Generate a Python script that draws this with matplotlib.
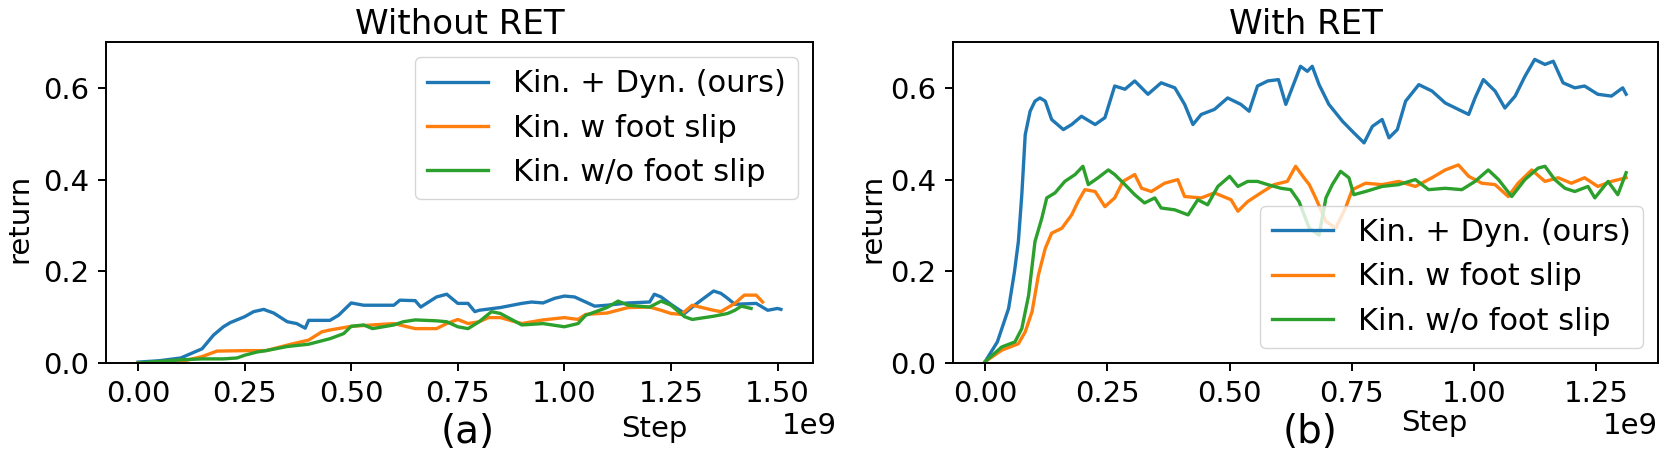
import numpy as np
import matplotlib
matplotlib.use('Agg')
import matplotlib.pyplot as plt

# step values in units of 1e9, return values
# ---- Without RET ----
noret_dyn_x = [0.00, 0.05, 0.10, 0.15, 0.177, 0.20, 0.216, 0.25, 0.271, 0.295, 0.30, 0.318,
               0.35, 0.372, 0.392, 0.40, 0.45, 0.47, 0.50, 0.529, 0.55, 0.60, 0.614, 0.65,
               0.663, 0.70, 0.724, 0.75, 0.774, 0.79, 0.80, 0.85, 0.90, 0.923, 0.95, 0.977,
               1.00, 1.024, 1.05, 1.071, 1.10, 1.15, 1.20, 1.211, 1.227, 1.25, 1.282, 1.30,
               1.321, 1.35, 1.367, 1.383, 1.40, 1.45, 1.477, 1.50, 1.508]
noret_dyn_y = [0.002, 0.005, 0.011, 0.031, 0.061, 0.079, 0.088, 0.101, 0.112, 0.117, 0.115, 0.109,
               0.090, 0.086, 0.076, 0.093, 0.093, 0.104, 0.131, 0.126, 0.126, 0.126, 0.137, 0.136,
               0.122, 0.144, 0.150, 0.130, 0.130, 0.112, 0.115, 0.121, 0.130, 0.133, 0.131, 0.141,
               0.146, 0.144, 0.133, 0.124, 0.126, 0.131, 0.133, 0.150, 0.144, 0.128, 0.108, 0.122,
               0.137, 0.157, 0.152, 0.141, 0.128, 0.130, 0.115, 0.119, 0.117]

noret_slip_x = [0.00, 0.10, 0.15, 0.185, 0.25, 0.30, 0.35, 0.40, 0.431, 0.45, 0.50, 0.55, 0.60,
                0.65, 0.70, 0.724, 0.75, 0.774, 0.80, 0.822, 0.85, 0.90, 0.95, 1.00, 1.032, 1.05,
                1.10, 1.15, 1.20, 1.227, 1.25, 1.274, 1.30, 1.35, 1.367, 1.40, 1.422, 1.45, 1.465]
noret_slip_y = [0.000, 0.003, 0.014, 0.026, 0.027, 0.027, 0.039, 0.050, 0.068, 0.072, 0.080, 0.083, 0.086,
                0.075, 0.075, 0.086, 0.095, 0.086, 0.090, 0.099, 0.099, 0.086, 0.094, 0.099, 0.095, 0.106,
                0.109, 0.121, 0.122, 0.115, 0.108, 0.106, 0.126, 0.115, 0.112, 0.130, 0.148, 0.148, 0.133]

noret_noslip_x = [0.00, 0.10, 0.15, 0.20, 0.232, 0.25, 0.279, 0.30, 0.35, 0.40, 0.45, 0.482, 0.50,
                  0.529, 0.55, 0.60, 0.622, 0.65, 0.70, 0.724, 0.75, 0.774, 0.80, 0.829, 0.85, 0.90,
                  0.95, 1.00, 1.032, 1.05, 1.10, 1.126, 1.15, 1.20, 1.227, 1.25, 1.282, 1.30, 1.35,
                  1.383, 1.40, 1.415, 1.438]
noret_noslip_y = [0.000, 0.007, 0.009, 0.009, 0.011, 0.017, 0.024, 0.027, 0.036, 0.041, 0.053, 0.064, 0.080,
                  0.083, 0.075, 0.083, 0.090, 0.094, 0.092, 0.090, 0.079, 0.075, 0.090, 0.112, 0.108, 0.083,
                  0.086, 0.079, 0.086, 0.104, 0.121, 0.135, 0.126, 0.122, 0.135, 0.126, 0.101, 0.095, 0.102,
                  0.108, 0.115, 0.124, 0.119]

# ---- With RET ----
ret_dyn_x = [0.000, 0.025, 0.048, 0.060, 0.068, 0.075, 0.082, 0.092, 0.102, 0.112, 0.123, 0.136,
             0.160, 0.177, 0.197, 0.225, 0.245, 0.265, 0.286, 0.306, 0.333, 0.360, 0.388, 0.408,
             0.425, 0.442, 0.469, 0.496, 0.523, 0.540, 0.557, 0.578, 0.600, 0.615, 0.632, 0.645,
             0.659, 0.669, 0.683, 0.703, 0.731, 0.754, 0.775, 0.792, 0.812, 0.826, 0.843, 0.860,
             0.887, 0.914, 0.941, 0.962, 0.989, 1.002, 1.019, 1.043, 1.063, 1.084, 1.104, 1.124,
             1.145, 1.162, 1.182, 1.206, 1.226, 1.253, 1.281, 1.304, 1.311]
ret_dyn_y = [0.003, 0.046, 0.119, 0.199, 0.265, 0.367, 0.498, 0.549, 0.571, 0.578, 0.571, 0.531,
             0.509, 0.520, 0.538, 0.520, 0.535, 0.604, 0.597, 0.615, 0.586, 0.611, 0.600, 0.564,
             0.520, 0.542, 0.553, 0.578, 0.564, 0.549, 0.604, 0.615, 0.618, 0.564, 0.611, 0.647,
             0.636, 0.647, 0.607, 0.564, 0.527, 0.502, 0.480, 0.516, 0.531, 0.491, 0.509, 0.571,
             0.607, 0.593, 0.567, 0.556, 0.542, 0.578, 0.618, 0.593, 0.556, 0.582, 0.625, 0.662,
             0.651, 0.658, 0.611, 0.600, 0.604, 0.586, 0.582, 0.600, 0.586]

ret_slip_x = [0.000, 0.034, 0.068, 0.082, 0.096, 0.109, 0.123, 0.136, 0.157, 0.177, 0.190, 0.204,
              0.225, 0.245, 0.265, 0.282, 0.306, 0.320, 0.340, 0.367, 0.394, 0.408, 0.442, 0.469,
              0.503, 0.517, 0.537, 0.564, 0.591, 0.618, 0.635, 0.652, 0.663, 0.676, 0.697, 0.717,
              0.737, 0.751, 0.778, 0.812, 0.846, 0.880, 0.914, 0.941, 0.968, 0.989, 1.016, 1.043,
              1.070, 1.090, 1.118, 1.145, 1.172, 1.199, 1.226, 1.253, 1.281, 1.311]
ret_slip_y = [0.003, 0.028, 0.042, 0.068, 0.112, 0.192, 0.250, 0.283, 0.294, 0.323, 0.352, 0.378,
              0.374, 0.341, 0.360, 0.396, 0.411, 0.381, 0.374, 0.392, 0.400, 0.363, 0.360, 0.371,
              0.356, 0.331, 0.352, 0.371, 0.389, 0.396, 0.429, 0.404, 0.389, 0.360, 0.309, 0.294,
              0.338, 0.378, 0.392, 0.389, 0.396, 0.385, 0.404, 0.421, 0.432, 0.407, 0.392, 0.389,
              0.363, 0.392, 0.421, 0.396, 0.404, 0.392, 0.404, 0.385, 0.396, 0.404]

ret_noslip_x = [0.000, 0.034, 0.061, 0.075, 0.089, 0.102, 0.116, 0.126, 0.143, 0.163, 0.184, 0.200,
                0.211, 0.231, 0.252, 0.265, 0.286, 0.306, 0.326, 0.347, 0.360, 0.388, 0.415, 0.435,
                0.455, 0.476, 0.500, 0.517, 0.537, 0.557, 0.578, 0.605, 0.625, 0.642, 0.663, 0.683,
                0.697, 0.710, 0.727, 0.744, 0.754, 0.778, 0.812, 0.846, 0.880, 0.907, 0.941, 0.975,
                1.002, 1.029, 1.050, 1.077, 1.104, 1.131, 1.145, 1.165, 1.186, 1.206, 1.233, 1.247,
                1.274, 1.294, 1.311]
ret_noslip_y = [0.003, 0.035, 0.046, 0.075, 0.148, 0.265, 0.316, 0.360, 0.371, 0.396, 0.411, 0.429,
                0.389, 0.404, 0.421, 0.411, 0.389, 0.367, 0.349, 0.360, 0.338, 0.334, 0.323, 0.356,
                0.345, 0.385, 0.407, 0.385, 0.396, 0.396, 0.389, 0.381, 0.378, 0.352, 0.294, 0.279,
                0.360, 0.389, 0.418, 0.404, 0.367, 0.374, 0.385, 0.389, 0.400, 0.378, 0.381, 0.378,
                0.396, 0.421, 0.400, 0.363, 0.400, 0.425, 0.429, 0.400, 0.381, 0.374, 0.385, 0.360,
                0.396, 0.367, 0.415]

labels = ['Kin. + Dyn. (ours)', 'Kin. w foot slip', 'Kin. w/o foot slip']

FS = 21


def drawPanel(ax, series, title, xticks, legendLoc):
    for (x, y), label in zip(series, labels):
        ax.plot(np.array(x) * 1e9, y, linewidth=2.4, label=label)
    ax.set_ylim(0, 0.7)
    ax.set_yticks([0.0, 0.2, 0.4, 0.6])
    ax.set_xticks(np.array(xticks) * 1e9)
    ax.set_title(title, fontsize=24.5)
    ax.set_ylabel('return', fontsize=FS)
    ax.tick_params(labelsize=FS, length=6, width=1.4, pad=6)
    for sp in ax.spines.values():
        sp.set_linewidth(1.4)
    ax.xaxis.get_offset_text().set_fontsize(FS)
    ax.legend(loc=legendLoc, fontsize=22)


def main():
    fig = plt.figure(figsize=(16.61, 4.5), dpi=100)
    ax1 = fig.add_axes([0.0638, 0.1933, 0.4257, 0.7134])
    ax2 = fig.add_axes([0.5738, 0.1933, 0.4245, 0.7134])

    drawPanel(ax1, [(noret_dyn_x, noret_dyn_y), (noret_slip_x, noret_slip_y),
                    (noret_noslip_x, noret_noslip_y)],
              'Without RET', [0, 0.25, 0.5, 0.75, 1.0, 1.25, 1.5], 'upper right')
    drawPanel(ax2, [(ret_dyn_x, ret_dyn_y), (ret_slip_x, ret_slip_y),
                    (ret_noslip_x, ret_noslip_y)],
              'With RET', [0, 0.25, 0.5, 0.75, 1.0, 1.25], 'lower right')
    ax1.xaxis.get_offset_text().set_x(1.034)
    ax1.yaxis.set_label_coords(-0.103, 0.449)
    ax2.yaxis.set_label_coords(-0.094, 0.449)

    # axis labels and sub-captions
    fig.text(0.3937, 0.029, 'Step', fontsize=FS, ha='center', va='baseline')
    fig.text(0.8633, 0.042, 'Step', fontsize=FS, ha='center', va='baseline')
    fig.text(0.2818, 0.016, '(a)', fontsize=28, ha='center', va='baseline')
    fig.text(0.7887, 0.016, '(b)', fontsize=28, ha='center', va='baseline')

    fig.savefig('out.png', dpi=100)


if __name__ == "__main__":
    main()
